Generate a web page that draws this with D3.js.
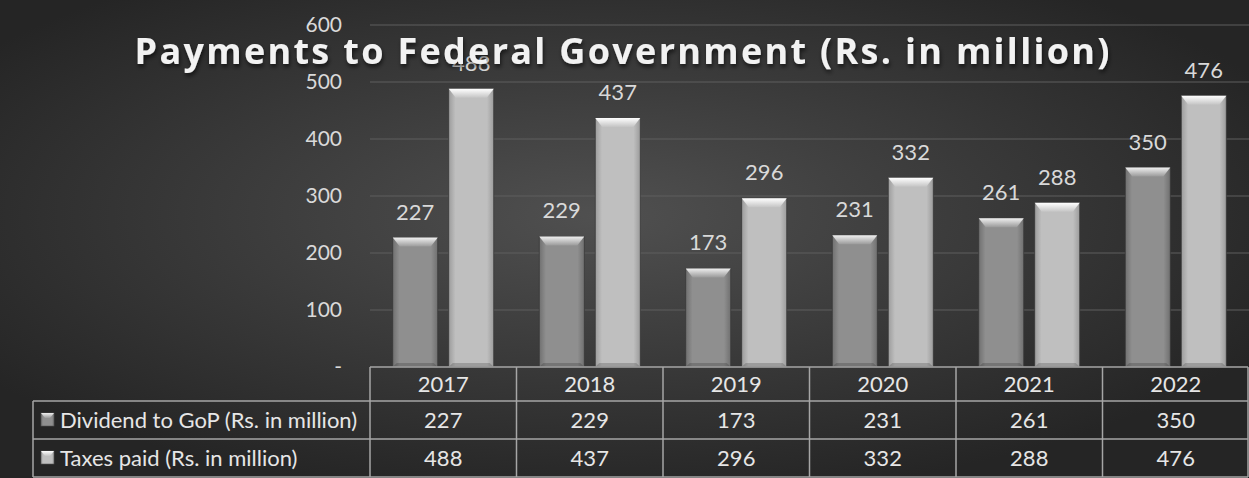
<!DOCTYPE html>
<html>
<head>
<meta charset="utf-8">
<script src="https://cdn.jsdelivr.net/npm/d3@7"></script>
<style>
  body { margin: 0; background: #333; }
  svg text { font-family: Lato, "Open Sans", sans-serif; }
</style>
</head>
<body>
<div id="chart"></div>
<script>
// chart data
var years = ["2017", "2018", "2019", "2020", "2021", "2022"];
var dividend = [227, 229, 173, 231, 261, 350];
var taxes = [488, 437, 296, 332, 288, 476];
var seriesNames = ["Dividend to GoP (Rs. in million)", "Taxes paid (Rs. in million)"];
var yTicks = [0, 100, 200, 300, 400, 500, 600];

var svgWidth = 1249;
var svgHeight = 478;

// plot area
var plotLeft = 370, plotRight = 1249, plotTop = 25, plotBottom = 367;
// table rows
var rowTops = [367, 401, 439, 477];
var tableLeft = 33;

var svg = d3.select("#chart").append("svg")
    .attr("width", svgWidth)
    .attr("height", svgHeight);

var defs = svg.append("defs");

// background gradient
var bg = defs.append("radialGradient").attr("id", "bg")
    .attr("cx", "48%").attr("cy", "45%").attr("r", "60%");
bg.append("stop").attr("offset", "0%").attr("stop-color", "#505050");
bg.append("stop").attr("offset", "100%").attr("stop-color", "#252525");

// bar gradients (horizontal, darker edges)
function barGrad(id, edge, mid) {
    var g = defs.append("linearGradient").attr("id", id)
        .attr("x1", "0%").attr("x2", "100%").attr("y1", "0%").attr("y2", "0%");
    g.append("stop").attr("offset", "0%").attr("stop-color", edge);
    g.append("stop").attr("offset", "15%").attr("stop-color", mid);
    g.append("stop").attr("offset", "85%").attr("stop-color", mid);
    g.append("stop").attr("offset", "100%").attr("stop-color", edge);
}
barGrad("g0", "#707070", "#8f8f8f");
barGrad("g1", "#9c9c9c", "#bfbfbf");

function topGrad(id, c1, c2) {
    var g = defs.append("linearGradient").attr("id", id)
        .attr("x1", "0%").attr("x2", "0%").attr("y1", "0%").attr("y2", "100%");
    g.append("stop").attr("offset", "0%").attr("stop-color", c1);
    g.append("stop").attr("offset", "100%").attr("stop-color", c2);
}
topGrad("t0", "#f0f0f0", "#9a9a9a");
topGrad("t1", "#ffffff", "#c4c4c4");

var shadow = defs.append("filter").attr("id", "shadow")
    .attr("x", "-5%").attr("y", "-20%").attr("width", "110%").attr("height", "160%");
shadow.append("feDropShadow").attr("dx", 1).attr("dy", 3).attr("stdDeviation", 2)
    .attr("flood-color", "#000").attr("flood-opacity", 0.6);

svg.append("rect")
    .attr("width", svgWidth).attr("height", svgHeight)
    .attr("fill", "url(#bg)");

// scales
var x0 = d3.scaleBand().domain(years).range([plotLeft, plotRight]).padding(0);
var x1 = d3.scaleBand().domain([0, 1]).range([0, x0.bandwidth()])
    .paddingInner(0.196).paddingOuter(0.406);
var y = d3.scaleLinear().domain([0, 600]).range([plotBottom, plotTop]);

// gridlines
svg.append("g").selectAll("line")
    .data(yTicks.slice(1))
    .enter().append("line")
    .attr("x1", plotLeft).attr("x2", plotRight)
    .attr("y1", d => y(d)).attr("y2", d => y(d))
    .attr("stroke", "#5f5f5f").attr("stroke-width", 1.2);

// y axis labels
var yAxis = d3.axisLeft(y).tickValues(yTicks)
    .tickFormat(d => d === 0 ? "-" : d).tickSize(0).tickPadding(0);
var yAxisG = svg.append("g")
    .attr("transform", "translate(342,0)")
    .call(yAxis);
yAxisG.select(".domain").remove();
yAxisG.selectAll("text")
    .attr("fill", "#d9d9d9").style("font-size", "21px")
    .style("font-family", "Lato, sans-serif");

// bars
var series = [dividend, taxes];
var barData = [];
years.forEach(function(yr, i) {
    series.forEach(function(s, k) {
        barData.push({ year: yr, k: k, value: s[i] });
    });
});

var bars = svg.append("g").selectAll("g.bar")
    .data(barData)
    .enter().append("g").attr("class", "bar");

bars.each(function(d) {
    var g = d3.select(this);
    var bx = x0(d.year) + x1(d.k);
    var bw = x1.bandwidth();
    var by = y(d.value);
    var bh = plotBottom - by;
    var bev = 7;
    g.append("rect")
        .attr("x", bx).attr("y", by).attr("width", bw).attr("height", bh)
        .attr("fill", "url(#g" + d.k + ")")
        .attr("stroke", "#3a3a3a").attr("stroke-width", 0.8);
    // top bevel
    g.append("polygon")
        .attr("points", [[bx, by], [bx + bw, by], [bx + bw - bev, by + bev + 2], [bx + bev, by + bev + 2]].join(" "))
        .attr("fill", "url(#t" + d.k + ")");
    // bottom bevel
    g.append("polygon")
        .attr("points", [[bx, by + bh], [bx + bw, by + bh], [bx + bw - 4, by + bh - 4], [bx + 4, by + bh - 4]].join(" "))
        .attr("fill", "#000").attr("opacity", 0.18);
});

// data labels
svg.append("g").selectAll("text")
    .data(barData)
    .enter().append("text")
    .attr("x", d => x0(d.year) + x1(d.k) + x1.bandwidth() / 2)
    .attr("y", d => y(d.value) - 18)
    .attr("text-anchor", "middle")
    .attr("fill", "#d9d9d9")
    .style("font-size", "22px")
    .text(d => d.value);

// title
svg.append("text")
    .attr("x", 622).attr("y", 64)
    .attr("text-anchor", "middle")
    .attr("fill", "#f2f2f2")
    .attr("filter", "url(#shadow)")
    .attr("textLength", 975).attr("lengthAdjust", "spacing")
    .style("font-family", "'Open Sans', sans-serif")
    .style("font-size", "36px").style("font-weight", "700")
    .text("Payments to Federal Government (Rs. in million)");

// data table
var table = svg.append("g");
var lineColor = "#a6a6a6";

// horizontal lines
table.append("line").attr("x1", plotLeft).attr("x2", plotRight - 1)
    .attr("y1", rowTops[0]).attr("y2", rowTops[0]);
[1, 2, 3].forEach(function(r) {
    table.append("line").attr("x1", tableLeft).attr("x2", plotRight - 1)
        .attr("y1", rowTops[r]).attr("y2", rowTops[r]);
});
// vertical lines
years.forEach(function(yr) {
    table.append("line").attr("x1", x0(yr)).attr("x2", x0(yr))
        .attr("y1", rowTops[0]).attr("y2", rowTops[3]);
});
table.append("line").attr("x1", plotRight - 1).attr("x2", plotRight - 1)
    .attr("y1", rowTops[0]).attr("y2", rowTops[3]);
table.append("line").attr("x1", tableLeft).attr("x2", tableLeft)
    .attr("y1", rowTops[1]).attr("y2", rowTops[3]);
table.selectAll("line").attr("stroke", lineColor).attr("stroke-width", 1.5);

// year headers
table.append("g").selectAll("text")
    .data(years).enter().append("text")
    .attr("x", d => x0(d) + x0.bandwidth() / 2)
    .attr("y", (rowTops[0] + rowTops[1]) / 2 + 8)
    .attr("text-anchor", "middle")
    .attr("fill", "#e6e6e6").style("font-size", "22px")
    .text(d => d);

// value rows
series.forEach(function(s, k) {
    var cy = (rowTops[k + 1] + rowTops[k + 2]) / 2 + 8;
    table.append("g").selectAll("text")
        .data(s).enter().append("text")
        .attr("x", (d, i) => x0(years[i]) + x0.bandwidth() / 2)
        .attr("y", cy)
        .attr("text-anchor", "middle")
        .attr("fill", "#e6e6e6").style("font-size", "22px")
        .text(d => d);

    // legend key
    var ky = cy - 15;
    table.append("rect")
        .attr("x", 41).attr("y", ky).attr("width", 13).attr("height", 13)
        .attr("fill", "url(#g" + k + ")").attr("stroke", "#555").attr("stroke-width", 0.6);
    table.append("polygon")
        .attr("points", [[41, ky], [54, ky], [50, ky + 5], [45, ky + 5]].join(" "))
        .attr("fill", "url(#t" + k + ")");

    table.append("text")
        .attr("x", 60).attr("y", cy)
        .attr("fill", "#e6e6e6").style("font-size", "22px")
        .text(seriesNames[k]);
});
</script>
</body>
</html>
